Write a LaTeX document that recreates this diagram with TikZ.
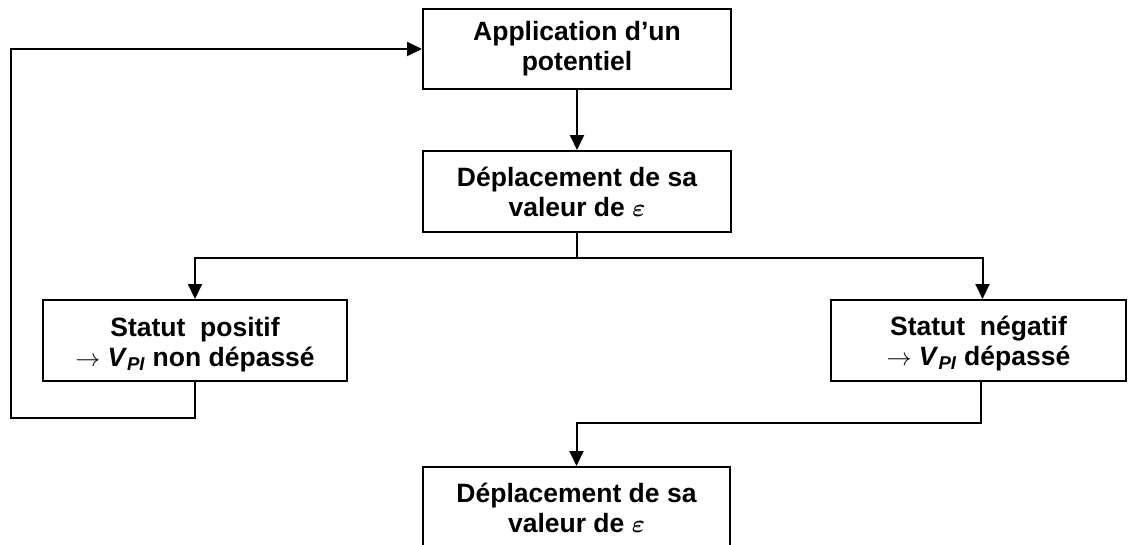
\documentclass[tikz,border=0pt]{standalone}
\usepackage{fontspec}
\setmainfont{Liberation Sans}
\usepackage{xcolor}
\usepackage{tikz}
\usetikzlibrary{arrows.meta, positioning, calc}
\definecolor{boxstroke}{HTML}{000000}
\definecolor{boxtext}  {HTML}{000000}
\tikzset{
  stepnode/.style={rectangle, draw=boxstroke, line width=2pt, inner sep=0pt,
    align=center, text=boxtext, font=\fontsize{26.5}{30}\selectfont\bfseries},
  flowarr/.style={-{Triangle[length=15pt,width=14pt]}, line width=2pt, color=boxstroke}
}
\newcommand{\vpi}{\textit{V}\textsubscript{\textit{PI}}}
\newcommand{\toarrow}{{\fontsize{24}{24}\selectfont$\rightarrow$}}
\newcommand{\epsval}{{\boldmath$\varepsilon$}}
\begin{document}
\begin{tikzpicture}[x=1pt, y=-1pt]

  \useasboundingbox (0,0) rectangle (1129,544);

  %% TOP
  \node[stepnode, minimum width=308pt, minimum height=80pt] (apply) at (577,49)
    {Application d’un\\potentiel};

  \node[stepnode, minimum width=308pt, minimum height=81pt,
        below=60pt of apply] (shift) {Déplacement de sa\\valeur de \epsval};

  \draw[flowarr] (apply) -- (shift);

  %% STATUS BOXES
  \node[stepnode, minimum width=304pt, minimum height=81pt] (positive) at (195,340.5)
    {\rule{0pt}{28pt}Statut\ \ positif\\\toarrow\ \vpi\ non dépassé};

  \node[stepnode, minimum width=295pt, minimum height=81pt] (negative) at (978.5,340.5)
    {\rule{0pt}{26pt}Statut\ \ négatif\\\toarrow\ \vpi\ dépassé};

  \draw[flowarr] (shift.south) -- ++(0,25) -| (positive.north);
  \draw[flowarr] (shift.south) -- ++(0,25) -| ([xshift=4pt]negative.north);

  %% FEEDBACK LOOP
  \coordinate (loopcorner) at (11,418);
  \draw[flowarr] (positive.south) |- (loopcorner) |- (apply.west);

  %% BOTTOM
  \node[stepnode, minimum width=307pt, minimum height=81pt] (shiftagain) at (576.5,507.5)
    {Déplacement de sa\\valeur de \epsval};

  \draw[flowarr] ([xshift=2pt]negative.south) -- ++(0,41) -| (shiftagain.north);

\end{tikzpicture}
\end{document}
